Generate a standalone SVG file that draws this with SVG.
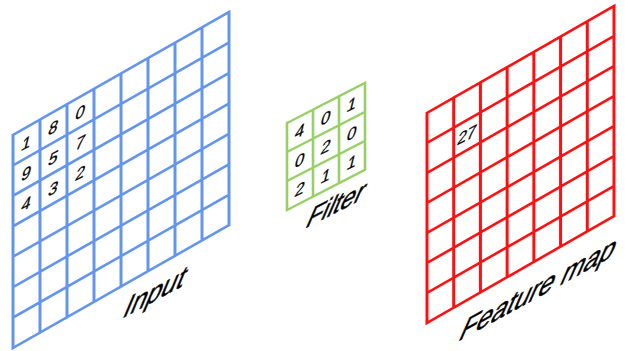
<svg xmlns="http://www.w3.org/2000/svg" width="625" height="351" viewBox="0 0 625 351">
<style>
.grid{fill:none;stroke-width:3;stroke-linecap:square}
.blue{stroke:#6495ED}
.green{stroke:#98D068;stroke-width:2.6}
.red{stroke:#FF1010}
.d{font-family:"Liberation Sans",Arial,sans-serif;font-size:18px;fill:#000;stroke:#000;stroke-width:0.3;text-anchor:middle}
.lbl{font-family:"Liberation Sans",Arial,sans-serif;fill:#000;stroke:#000;stroke-width:0.6}
</style>
<rect width="625" height="351" fill="#fff"/>
<g id="input">
<path class="grid blue" transform="matrix(1,-0.569,0,1,13,135)" d="M0 0V213M27 0V213M54 0V213M81 0V213M108 0V213M135 0V213M162 0V213M189 0V213M216 0V213M0 0H216M0 30.43H216M0 60.86H216M0 91.29H216M0 121.71H216M0 152.14H216M0 182.57H216M0 213H216"/>
<text class="d" transform="matrix(0.92,-0.48,-0.25,1,26.5,142.5)" y="6.5">1</text>
<text class="d" transform="matrix(0.92,-0.48,-0.25,1,53.5,127.2)" y="6.5">8</text>
<text class="d" transform="matrix(0.92,-0.48,-0.25,1,80.5,111.8)" y="6.5">0</text>
<text class="d" transform="matrix(0.92,-0.48,-0.25,1,26.5,172.9)" y="6.5">9</text>
<text class="d" transform="matrix(0.92,-0.48,-0.25,1,53.5,157.6)" y="6.5">5</text>
<text class="d" transform="matrix(0.92,-0.48,-0.25,1,80.5,142.2)" y="6.5">7</text>
<text class="d" transform="matrix(0.92,-0.48,-0.25,1,26.5,203.4)" y="6.5">4</text>
<text class="d" transform="matrix(0.92,-0.48,-0.25,1,53.5,188.1)" y="6.5">3</text>
<text class="d" transform="matrix(0.92,-0.48,-0.25,1,80.5,172.7)" y="6.5">2</text>
<text class="lbl" font-size="33" transform="matrix(0.82,-0.44,-0.42,1,121,319)">Input</text>
</g>
<g id="filter">
<path class="grid green" transform="matrix(1,-0.515,0,1,287,123)" d="M0 0V87M26 0V87M52 0V87M78 0V87M0 0H78M0 29H78M0 58H78M0 87H78"/>
<text class="d" transform="matrix(0.92,-0.46,-0.25,1,300,130.8)" y="6.5">4</text>
<text class="d" transform="matrix(0.92,-0.46,-0.25,1,326,117.4)" y="6.5">0</text>
<text class="d" transform="matrix(0.92,-0.46,-0.25,1,352,104)" y="6.5">1</text>
<text class="d" transform="matrix(0.92,-0.46,-0.25,1,300,159.8)" y="6.5">0</text>
<text class="d" transform="matrix(0.92,-0.46,-0.25,1,326,146.4)" y="6.5">2</text>
<text class="d" transform="matrix(0.92,-0.46,-0.25,1,352,133)" y="6.5">0</text>
<text class="d" transform="matrix(0.92,-0.46,-0.25,1,300,188.8)" y="6.5">2</text>
<text class="d" transform="matrix(0.92,-0.46,-0.25,1,326,175.4)" y="6.5">1</text>
<text class="d" transform="matrix(0.92,-0.46,-0.25,1,352,162)" y="6.5">1</text>
<text class="lbl" font-size="31" transform="matrix(0.82,-0.42,-0.44,1,304,229)">Filter</text>
</g>
<g id="feature-map">
<path class="grid red" transform="matrix(1,-0.572,0,1,427,113)" d="M0 0V210M26.71 0V210M53.43 0V210M80.14 0V210M106.86 0V210M133.57 0V210M160.29 0V210M187 0V210M0 0H187M0 30H187M0 60H187M0 90H187M0 120H187M0 150H187M0 180H187M0 210H187"/>
<text class="d" font-size="17" transform="matrix(0.92,-0.48,-0.25,1,467,135)" y="6">27</text>
<text class="lbl" font-size="34" transform="matrix(0.8,-0.44,-0.44,1,457,342)">Feature map</text>
</g>
<g id="connectors"/>
</svg>
